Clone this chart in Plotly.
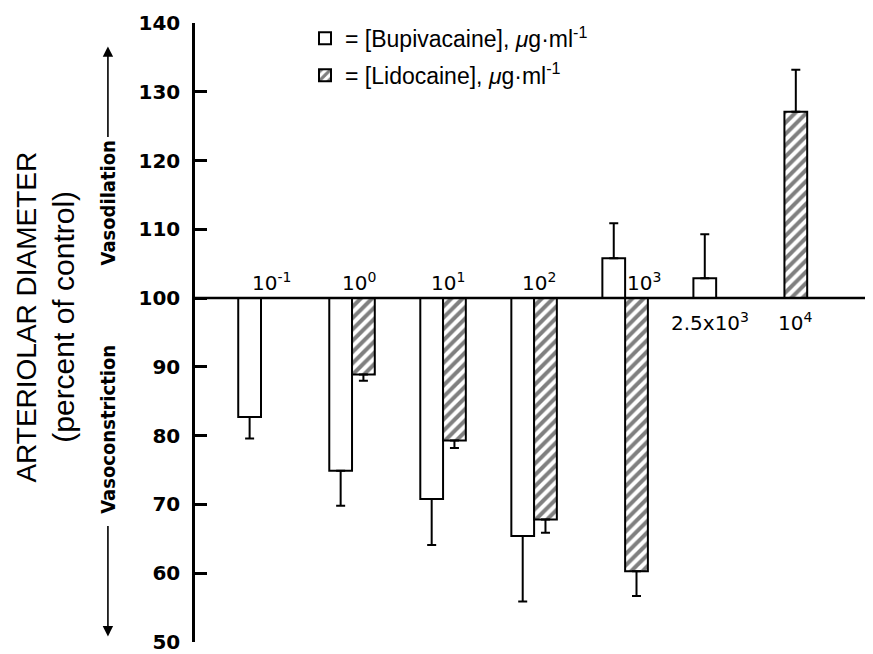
import plotly.graph_objects as go

# ---------------- data ----------------
conc_labels = ["10<sup>-1</sup>", "10<sup>0</sup>", "10<sup>1</sup>", "10<sup>2</sup>",
               "10<sup>3</sup>", "2.5x10<sup>3</sup>", "10<sup>4</sup>"]
bupivacaine = [82.7, 74.9, 70.8, 65.4, 105.8, 102.9, None]
bupivacaine_err = [3.1, 5.1, 6.7, 9.5, 5.1, 6.4, None]
lidocaine = [None, 88.9, 79.3, 67.8, 60.3, None, 127.1]
lidocaine_err = [None, 0.9, 1.1, 1.9, 3.6, None, 6.1]
control = 100
y_ticks = [50, 60, 70, 80, 90, 100, 110, 120, 130, 140]

# ---------------- layout helpers (style) ----------------
BAR_W = 0.25
label_offset = [0.11, 0.08, 0.05, 0.05, 0.21, -0.07, -0.13]
label_below = [False, False, False, False, False, True, True]
lido_slot = [0, 0, 0, 0, 0, 0, -BAR_W]   # 10^4 lidocaine bar drawn in left slot

x_idx = list(range(len(conc_labels)))


def rel(vals):
    return [None if v is None else v - control for v in vals]


def err_split(vals, errs):
    plus, minus = [], []
    for v, e in zip(vals, errs):
        if v is None:
            plus.append(None); minus.append(None)
        elif v >= control:
            plus.append(e); minus.append(0)
        else:
            plus.append(0); minus.append(e)
    return plus, minus


bp, bm = err_split(bupivacaine, bupivacaine_err)
lp, lm = err_split(lidocaine, lidocaine_err)

err_style = dict(type="data", symmetric=False, color="black", thickness=2, width=4.5)

fig = go.Figure()
fig.add_trace(go.Bar(
    x=x_idx, y=rel(bupivacaine), base=control, width=BAR_W, offset=-BAR_W,
    name="= [Bupivacaine], <i>μ</i>g·ml<sup>-1</sup>", legendgroup="b",
    marker=dict(color="white", line=dict(color="black", width=2)),
    error_y=dict(array=bp, arrayminus=bm, **err_style),
))
fig.add_trace(go.Bar(
    x=x_idx, y=rel(lidocaine), base=control, width=BAR_W, offset=lido_slot,
    name="= [Lidocaine], <i>μ</i>g·ml<sup>-1</sup>", legendgroup="l",
    marker=dict(color="white", line=dict(color="black", width=2),
                pattern=dict(shape="/", fgcolor="black", bgcolor="white",
                             size=8, solidity=0.5)),
    error_y=dict(array=lp, arrayminus=lm, **err_style),
))

# control (100 %) baseline
fig.add_shape(type="line", xref="paper", x0=0, x1=1, yref="y", y0=control, y1=control,
              line=dict(color="black", width=2.5))

annotations = []
for i, lab in enumerate(conc_labels):
    below = label_below[i]
    annotations.append(dict(
        x=i + label_offset[i], y=control, xref="x", yref="y", text=lab, showarrow=False,
        xanchor="center", yanchor="top" if below else "bottom",
        yshift=-9 if below else 1,
        font=dict(family="DejaVu Sans", size=20, color="black")))

# y-axis title (two lines)
annotations.append(dict(x=-0.249, y=97.3, xref="paper", yref="y", text="ARTERIOLAR DIAMETER",
                        textangle=-90, showarrow=False, xanchor="center", yanchor="middle",
                        font=dict(family="Liberation Sans", size=28, color="black")))
annotations.append(dict(x=-0.194, y=97.3, xref="paper", yref="y", text="(percent of control)",
                        textangle=-90, showarrow=False, xanchor="center", yanchor="middle",
                        font=dict(family="Liberation Sans", size=30, color="black")))

side_font = dict(family="DejaVu Sans Condensed", size=20, color="black", weight="bold")
annotations.append(dict(x=-0.129, y=113.9, xref="paper", yref="y", text="Vasodilation",
                        textangle=-90, showarrow=False, xanchor="center", yanchor="middle",
                        font=side_font))
annotations.append(dict(x=-0.129, y=81.0, xref="paper", yref="y", text="Vasoconstriction",
                        textangle=-90, showarrow=False, xanchor="center", yanchor="middle",
                        font=side_font))
# arrows (tail offset in pixels from the head)
annotations.append(dict(x=-0.129, y=136.6, xref="paper", yref="y", ax=0, ay=92,
                        text="", showarrow=True, arrowhead=2,
                        arrowsize=1.3, arrowwidth=1.6, arrowcolor="black"))
annotations.append(dict(x=-0.129, y=50.8, xref="paper", yref="y", ax=0, ay=-112,
                        text="", showarrow=True, arrowhead=2,
                        arrowsize=1.3, arrowwidth=1.6, arrowcolor="black"))

# page body has an 8px default margin -> figure sized/margined to compensate
fig.update_layout(
    width=865, height=646,
    margin=dict(l=187, r=3, t=15, b=12, autoexpand=False),
    paper_bgcolor="white", plot_bgcolor="white",
    barmode="overlay",
    showlegend=True,
    legend=dict(x=0.163, y=1.01, xanchor="left", yanchor="top",
                font=dict(family="Liberation Sans", size=23, color="black"),
                bgcolor="rgba(0,0,0,0)", traceorder="grouped", tracegroupgap=4,
                itemwidth=30),
    annotations=annotations,
    xaxis=dict(range=[-0.725, 6.69], visible=False, fixedrange=True),
    yaxis=dict(range=[50, 140], tickvals=y_ticks, ticks="inside", ticklen=12, tickwidth=2.5,
               tickcolor="black", showline=True, linewidth=2.5, linecolor="black",
               showgrid=False, zeroline=False, ticklabelstandoff=8, automargin=False,
               ticklabeloverflow="allow",
               tickfont=dict(family="DejaVu Sans", size=20, color="black", weight="bold")),
)

fig.write_html("out.html")
